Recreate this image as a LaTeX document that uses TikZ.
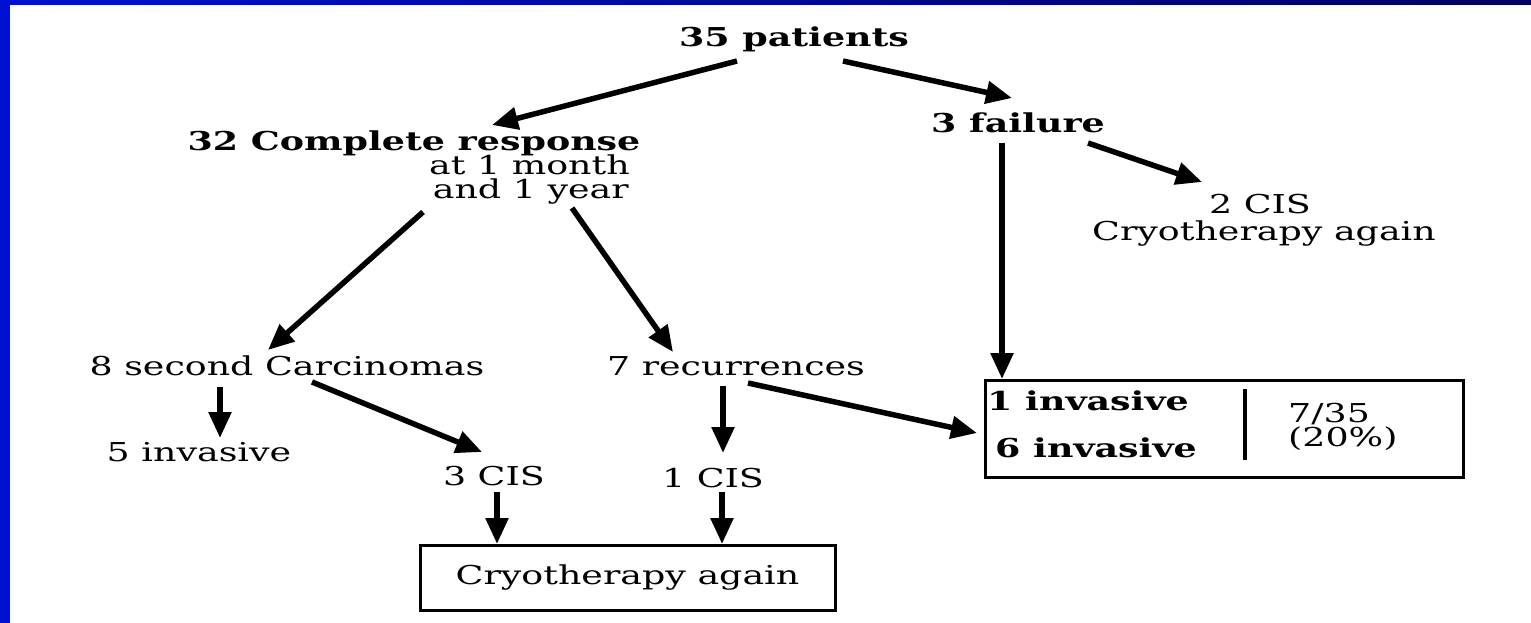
\documentclass[tikz,border=0pt]{standalone}
\usepackage{fontspec}
\setmainfont{DejaVu Serif}[FakeStretch=1.40]
\usetikzlibrary{arrows.meta}
\definecolor{barL}{RGB}{0,16,210}
\definecolor{barR}{RGB}{0,0,96}
\tikzset{
  lbl/.style={inner sep=0pt, anchor=base, font=\fontsize{26}{30}\selectfont},
  blbl/.style={lbl, font=\fontsize{26}{30}\selectfont\bfseries},
  arr/.style={line width=5.5pt, -{Triangle[length=26pt,width=22pt]}},
  frame/.style={draw, line width=3pt, inner sep=0pt},
}
\begin{document}
\begin{tikzpicture}[x=1pt,y=-1pt]
\useasboundingbox (0,0) rectangle (1531,623);
\fill[white] (0,0) rectangle (1531,623);
\shade[left color=barL,right color=barR] (0,0) rectangle (1531,5);
\fill[barL] (0,0) rectangle (10,623);

% text nodes
\node[blbl] (p35) at (794,47) {35 patients};
\node[blbl] (cr) at (414,150) {32 Complete response};
\node[lbl, anchor=base east] (cr1) at (630,174) {at 1 month};
\node[lbl, anchor=base east] (cr2) at (629,198) {and 1 year};
\node[blbl] (fail) at (1018,132) {3 failure};
\node[lbl] (cis2) at (1260,213) {2 CIS};
\node[lbl] (cis2b) at (1264,240) {Cryotherapy again};
\node[lbl] (sec) at (287,375) {8 second Carcinomas};
\node[lbl] (rec) at (736,375) {7 recurrences};
\node[lbl] (inv5) at (199,461) {5 invasive};
\node[lbl] (cis3) at (494,485) {3 CIS};
\node[lbl] (cis1) at (713,487) {1 CIS};
\node[frame, minimum width=415pt, minimum height=65pt, font=\fontsize{26}{30}\selectfont] (cryo) at (627.5,577.5) {Cryotherapy again};

% right box
\node[frame, minimum width=478pt, minimum height=97pt] (rbox) at (1224,428.5) {};
\node[blbl, anchor=base west] (inv1) at (987,410) {1 invasive};
\node[blbl, anchor=base west] (inv6) at (995,457) {6 invasive};
\draw[line width=3.5pt] ([shift={(21,-39.5)}]rbox.center) -- ([shift={(21,31.5)}]rbox.center);
\node[lbl, anchor=base west, font=\fontsize{26}{30}\selectfont] (r735) at (1288,422) {7/35};
\node[lbl, anchor=base west, font=\fontsize{26}{30}\selectfont] (r20) at (1288,446) {(20\%)};

% arrows
\draw[arr] ([shift={(-57,14)}]p35.base) -- ([shift={(78,-25)}]cr.base);
\draw[arr] ([shift={(49,14)}]p35.base) -- ([shift={(-6,-34)}]fail.base);
\draw[arr] ([shift={(70,11)}]fail.base) -- ([shift={(-58,-31)}]cis2.base);
\draw[arr] ([shift={(-16,11)}]fail.base) -- ([shift={(-222,-49.5)}]rbox.center);
\draw[arr] ([shift={(-206,14)}]cr2.base east) -- ([shift={(-19,-25)}]sec.base);
\draw[arr] ([shift={(-57,10)}]cr2.base east) -- ([shift={(-63,-23)}]rec.base);
\draw[arr] ([shift={(-67,12)}]sec.base) -- ([shift={(21,-23)}]inv5.base);
\draw[arr] ([shift={(25,7)}]sec.base) -- ([shift={(-12,-33)}]cis3.base);
\draw[arr] ([shift={(-13,11)}]rec.base) -- ([shift={(10,-34)}]cis1.base);
\draw[arr] ([shift={(12,8)}]rec.base) -- ([shift={(-247,4.5)}]rbox.center);
\draw[arr] ([shift={(3,7)}]cis3.base) -- ([shift={(-130.5,-33.5)}]cryo.center);
\draw[arr] ([shift={(9,5)}]cis1.base) -- ([shift={(94.5,-33.5)}]cryo.center);
\end{tikzpicture}
\end{document}
